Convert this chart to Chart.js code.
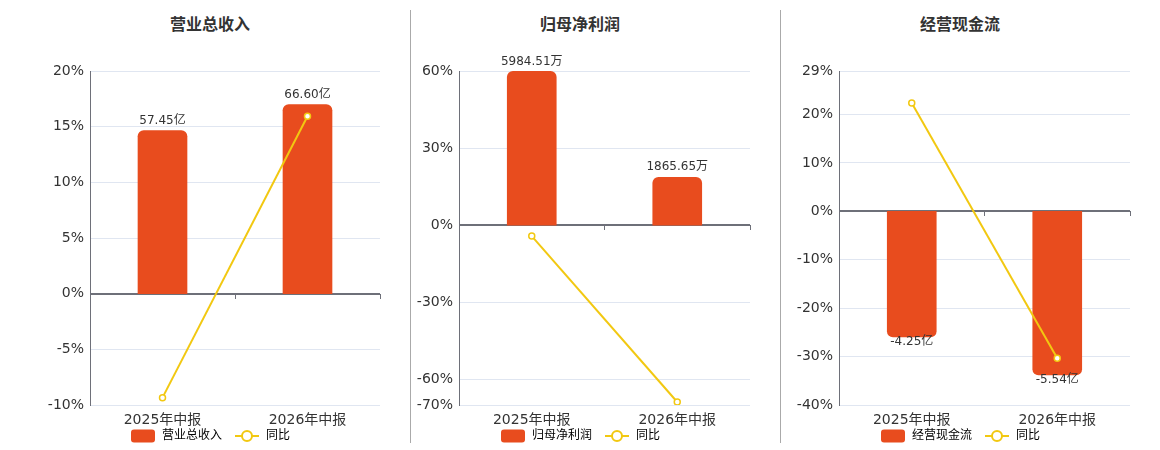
<!DOCTYPE html>
<html>
<head>
<meta charset="utf-8">
<script src="https://cdn.jsdelivr.net/npm/chart.js@4"></script>
<style>
  html, body { margin: 0; padding: 0; background: #fff; overflow: hidden; }
  #wrap { position: relative; width: 1160px; height: 450px; }
  .sep { position: absolute; top: 10px; height: 433px; width: 0; border-left: 1px solid #aaa; }
  .title { position: absolute; top: 11px; width: 300px; text-align: center;
    font: bold 16px "Noto Sans CJK SC", "DejaVu Sans", sans-serif; color: #333; }
  canvas { position: absolute; top: 0; }
</style>
</head>
<body>
<div id="wrap">
  <div class="sep" style="left:410px"></div>
  <div class="sep" style="left:780px"></div>
  <div class="title" style="left:60px">营业总收入</div>
  <div class="title" style="left:430px">归母净利润</div>
  <div class="title" style="left:810px">经营现金流</div>
  <canvas id="c1" width="342" height="452" style="left:40px"></canvas>
  <canvas id="c2" width="342" height="452" style="left:410px"></canvas>
  <canvas id="c3" width="342" height="452" style="left:790px"></canvas>
</div>
<script>
const periods = ['2025年中报', '2026年中报']

// 营业总收入 (亿) and 同比 (%)
const revenue = [57.45, 66.60]
const revenueYoy = [-9.34, 15.93]
const revenueTicks = [-10, -5, 0, 5, 10, 15, 20]

// 归母净利润 (万) and 同比 (%)
const profit = [5984.51, 1865.65]
const profitYoy = [-4.26, -68.83]
const profitTicks = [-70, -60, -30, 0, 30, 60]

// 经营现金流 (亿) and 同比 (%)
const cashflow = [-4.25, -5.54]
const cashflowYoy = [22.4, -30.35]
const cashflowTicks = [-40, -30, -20, -10, 0, 10, 20, 29]

const BAR = '#E84C1E'
const LINE = '#F2C811'
const FONT = '"DejaVu Sans", "Noto Sans CJK SC", sans-serif'

// legend markers
function barMarker() {
  const c = document.createElement('canvas')
  c.width = 26; c.height = 14
  const g = c.getContext('2d')
  g.fillStyle = BAR
  g.beginPath()
  g.roundRect(1, 0.5, 24, 13, 3)
  g.fill()
  return c
}
function lineMarker() {
  const c = document.createElement('canvas')
  c.width = 26; c.height = 14
  const g = c.getContext('2d')
  g.strokeStyle = LINE
  g.lineWidth = 2
  g.beginPath(); g.moveTo(1, 7); g.lineTo(25, 7); g.stroke()
  g.beginPath(); g.arc(13, 7, 5, 0, Math.PI * 2)
  g.fillStyle = '#fff'; g.fill(); g.stroke()
  return c
}

const barLabels = {
  id: 'barLabels',
  afterDatasetsDraw(chart, args, opts) {
    const meta = chart.getDatasetMeta(0)
    const ds = chart.data.datasets[0]
    const ctx = chart.ctx
    ctx.save()
    ctx.font = '12px ' + FONT
    ctx.fillStyle = '#333'
    ctx.textAlign = 'center'
    ctx.textBaseline = 'middle'
    meta.data.forEach((el, i) => {
      const v = ds.data[i]
      const y = v >= 0 ? el.y - 10 : el.y + 5
      ctx.fillText(v.toFixed(2) + opts.unit, el.x, y)
    })
    ctx.restore()
  },
}

function makePanel(id, name, unit, bars, yoy, ticks, barFactor, axisWidth) {
  const lo = ticks[0]
  const hi = ticks[ticks.length - 1]
  return new Chart(document.getElementById(id), {
    type: 'bar',
    data: {
      labels: periods,
      datasets: [
        {
          label: name,
          data: bars,
          yAxisID: 'yb',
          backgroundColor: BAR,
          borderRadius: 6,
          barThickness: 49,
          order: 2,
        },
        {
          type: 'line',
          label: '同比',
          data: yoy,
          yAxisID: 'y',
          borderColor: LINE,
          borderWidth: 2,
          pointRadius: 3,
          pointBorderWidth: 1.5,
          pointBackgroundColor: '#fff',
          pointBorderColor: LINE,
          order: 1,
        },
      ],
    },
    options: {
      responsive: false,
      animation: false,
      events: [],
      layout: { autoPadding: false, padding: { top: 71, right: 2 } },
      plugins: {
        tooltip: { enabled: false },
        barLabels: { unit },
        legend: {
          position: 'bottom',
          labels: {
            usePointStyle: true,
            pointStyleWidth: 26,
            padding: 12,
            color: '#555',
            font: { size: 12, family: FONT },
            generateLabels: () => [
              { text: name, pointStyle: barMarker(), fillStyle: BAR, strokeStyle: 'transparent', lineWidth: 0, hidden: false, datasetIndex: 0 },
              { text: '同比', pointStyle: lineMarker(), fillStyle: LINE, strokeStyle: 'transparent', lineWidth: 0, hidden: false, datasetIndex: 1 },
            ],
          },
        },
      },
      scales: {
        // reserves the space under the plot, labels come from xl
        x: {
          offset: true,
          grid: { display: false, drawTicks: false, offset: true },
          border: { display: false },
          ticks: { display: false },
          afterFit: (s) => { s.height = 13 },
        },
        // category labels, hung on the bottom of the plot so they are not clipped
        xl: {
          type: 'category',
          position: { y: lo },
          offset: true,
          grid: { display: false, drawTicks: false, offset: true },
          border: { display: false },
          ticks: { color: '#333', padding: 7, font: { size: 14, family: FONT } },
        },
        // tick marks under the zero line
        xz: {
          type: 'category',
          position: { y: 0 },
          offset: true,
          grid: { offset: true, drawOnChartArea: false, drawTicks: true, tickLength: 5, color: '#6E7079', lineWidth: 1 },
          border: { display: false },
          ticks: { display: false },
        },
        y: {
          min: lo,
          max: hi,
          afterBuildTicks: (s) => { s.ticks = ticks.map((v) => ({ value: v })) },
          afterFit: (s) => { s.width = axisWidth },
          border: { color: '#6E7079', width: 1 },
          grid: {
            drawTicks: false,
            color: (c) => (c.tick && c.tick.value === 0 ? '#6E7079' : '#E0E6F1'),
            lineWidth: (c) => (c.tick && c.tick.value === 0 ? 2 : 1),
          },
          ticks: {
            color: '#333',
            padding: 6,
            font: { size: 14, family: FONT },
            callback: (v) => v + '%',
          },
        },
        yb: {
          display: false,
          min: lo * barFactor,
          max: hi * barFactor,
        },
      },
    },
    plugins: [barLabels],
  })
}

makePanel('c1', '营业总收入', '亿', revenue, revenueYoy, revenueTicks, 3.92, 50)
makePanel('c2', '归母净利润', '万', profit, profitYoy, profitTicks, 100, 49)
makePanel('c3', '经营现金流', '亿', cashflow, cashflowYoy, cashflowTicks, 0.164, 49)
</script>
</body>
</html>
